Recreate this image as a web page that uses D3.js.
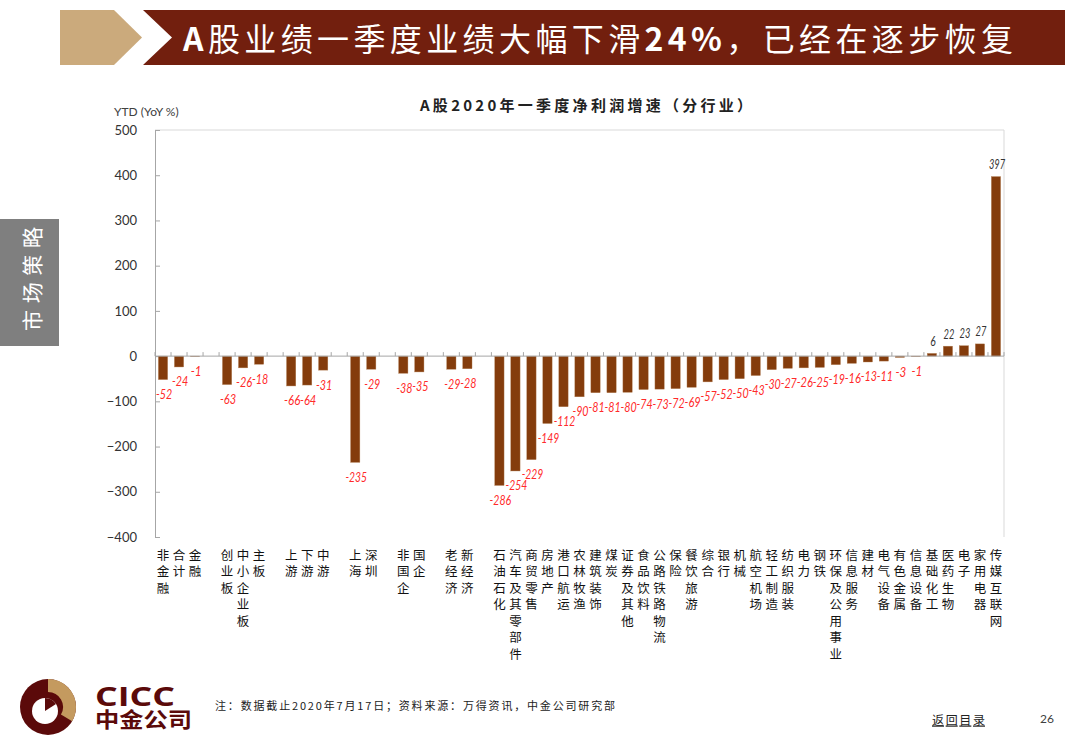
<!DOCTYPE html>
<html><head><meta charset="utf-8">
<script src="https://cdn.jsdelivr.net/npm/d3@7"></script>
<style>body{margin:0;background:#fff;} svg{display:block;}</style>
</head><body>
<svg id="c" width="1080" height="754"></svg>
<script>
// ---- data ----
const categories = ["非金融","合计","金融","","创业板","中小企业板","主板","","上游","下游","中游","","上海","深圳","","非国企","国企","","老经济","新经济","","石油石化","汽车及其零部件","商贸零售","房地产","港口航运","农林牧渔","建筑装饰","煤炭","证券及其他","食品饮料","公路铁路物流","保险","餐饮旅游","综合","银行","机械","航空机场","轻工制造","纺织服装","电力","钢铁","环保及公用事业","信息服务","建材","电气设备","有色金属","信息设备","基础化工","医药生物","电子","家用电器","传媒互联网"];
const values = [-52,-24,-1,null,-63,-26,-18,null,-66,-64,-31,null,-235,-29,null,-38,-35,null,-29,-28,null,-286,-254,-229,-149,-112,-90,-81,-81,-80,-74,-73,-72,-69,-57,-52,-50,-43,-30,-27,-26,-25,-19,-16,-13,-11,-3,-1,6,22,23,27,397];
const yTicks = [-400,-300,-200,-100,0,100,200,300,400,500];
const headerTitle = ["A","股业绩一季度业绩大幅下滑","24%","，已经在逐步恢复"];
const chartTitle = "A股2020年一季度净利润增速（分行业）";
const yAxisTitle = "YTD (YoY %)";
const footnote = "注：数据截止2020年7月17日；资料来源：万得资讯，中金公司研究部";
const sideTab = "市场策略";

const svg = d3.select("#c");
const CJK = "'Noto Sans CJK SC','Noto Sans',sans-serif";
const NUM = "Lato,'Open Sans',sans-serif";

// ---- header ----
svg.append("polygon").attr("points","60,10 114,10 142,37.5 114,65 60,65").attr("fill","#CBAA7C");
svg.append("polygon").attr("points","143,10 1065,10 1065,65 143,65 172,37.5").attr("fill","#721F0E");
const ht = svg.append("text").attr("x",183).attr("y",51).attr("fill","#fff")
  .attr("font-family",CJK).attr("font-size",32).attr("textLength",830).attr("lengthAdjust","spacing");
headerTitle.forEach((s,i)=>ht.append("tspan").attr("font-weight",(i%2===0)?"bold":"normal").text(s));

// ---- side tab ----
svg.append("rect").attr("x",0).attr("y",219).attr("width",59).attr("height",127).attr("fill","#7F7F7F");
svg.append("text").attr("transform","translate(31,279) rotate(-90)").attr("text-anchor","middle")
  .attr("dominant-baseline","central").attr("fill","#fff").attr("font-family",CJK).attr("font-size",21)
  .attr("textLength",104).attr("lengthAdjust","spacing").text(sideTab);

// ---- chart ----
const x0 = 155, x1 = 1004, yTop = 130, yBot = 537;
const x = d3.scaleBand().domain(d3.range(categories.length)).range([x0,x1]).paddingInner(0.42).paddingOuter(0.21);
const y = d3.scaleLinear().domain([-400,500]).range([yBot,yTop]);
const step = x.step();

svg.append("text").attr("x",586).attr("y",104).attr("text-anchor","middle").attr("dominant-baseline","central")
  .attr("font-family",CJK).attr("font-size",15).attr("font-weight","bold").attr("fill","#222")
  .attr("textLength",332).attr("lengthAdjust","spacing").text(chartTitle);
svg.append("text").attr("x",114).attr("y",111).attr("dominant-baseline","central")
  .attr("font-family",NUM).attr("font-size",12).attr("fill","#404040").text(yAxisTitle);

// plot border (top/right)
svg.append("path").attr("d",`M${x0},${yTop}H${x1}V${yBot}`).attr("fill","none").attr("stroke","#d9d9d9").attr("stroke-width",1);

// y axis
const yAxis = d3.axisLeft(y).tickValues(yTicks).tickSize(-5).tickPadding(22);
const ga = svg.append("g").attr("transform",`translate(${x0},0)`).call(yAxis);
ga.select(".domain").attr("stroke","#A6A6A6");
ga.selectAll(".tick line").attr("stroke","#A6A6A6");
ga.selectAll(".tick text").attr("font-family",NUM).attr("font-size",13).attr("fill","#333").attr("x",-18);

// bars
const idx = d3.range(categories.length).filter(i=>values[i]!==null);
svg.append("g").selectAll("rect").data(idx).join("rect")
  .attr("x",i=>x(i)).attr("width",x.bandwidth())
  .attr("y",i=>y(Math.max(0,values[i]))).attr("height",i=>Math.max(0.5,Math.abs(y(values[i])-y(0))))
  .attr("fill","#843C0C").attr("stroke","#B5835A").attr("stroke-width",0.4);

// x axis line + ticks at slot boundaries
const y0 = y(0);
svg.append("line").attr("x1",x0).attr("x2",x1).attr("y1",y0).attr("y2",y0).attr("stroke","#A6A6A6");
svg.append("g").selectAll("line").data(d3.range(categories.length+1)).join("line")
  .attr("x1",i=>x0+i*step).attr("x2",i=>x0+i*step).attr("y1",y0).attr("y2",y0-4).attr("stroke","#A6A6A6");

// value labels
svg.append("g").selectAll("text").data(idx).join("text")
  .attr("x",i=>x(i)+x.bandwidth()/2+1)
  .attr("y",i=>values[i]<0 ? y(values[i])+15 : y(values[i])-12)
  .attr("text-anchor","middle").attr("dominant-baseline","central")
  .attr("font-family",NUM).attr("font-size",12.5).attr("font-style","italic")
  .attr("fill",i=>values[i]<0?"#FF2A2A":"#333")
  .attr("textLength",i=>String(values[i]).length*5.4).attr("lengthAdjust","spacingAndGlyphs")
  .text(i=>values[i]);

// category labels (vertical stacked characters, one text per category)
const gl = svg.append("g").attr("font-family",CJK).attr("font-size",12.5).attr("fill","#111");
categories.forEach((c,i)=>{
  if(!c) return;
  const cx = x(i)+x.bandwidth()/2;
  const t = gl.append("text").attr("x",cx).attr("y",559.5).attr("text-anchor","middle");
  Array.from(c).forEach((ch,k)=>{
    t.append("tspan").attr("x",cx).attr("dy",k===0?0:16.5).text(ch);
  });
});

// ---- footer ----
const lg = svg.append("g").attr("transform","translate(48,707)");
lg.append("circle").attr("r",28).attr("fill","#5B0A0A");
lg.append("path").attr("d",d3.arc()({innerRadius:15,outerRadius:28,startAngle:0,endAngle:2.1})).attr("fill","#C49A5F");
lg.append("circle").attr("cx",-3).attr("cy",4).attr("r",13).attr("fill","#fff");
lg.append("path").attr("d","M-3,4 L-3,-9 A13,13 0 0 1 8,-3 Z").attr("fill","#5B0A0A");
const logoT = svg.append("text").attr("fill","#5B0A0A").attr("font-weight","bold");
logoT.append("tspan").attr("x",95).attr("y",706).attr("font-family","'Open Sans',Lato,sans-serif")
  .attr("font-size",27).attr("textLength",80).attr("lengthAdjust","spacingAndGlyphs").text("CICC");
logoT.append("tspan").attr("x",95).attr("y",727).attr("font-family",CJK)
  .attr("font-size",21).attr("textLength",97).attr("lengthAdjust","spacingAndGlyphs").text("中金公司");
svg.append("text").attr("x",215).attr("y",705).attr("dominant-baseline","central").attr("font-family",CJK)
  .attr("font-size",11).attr("fill","#222").attr("textLength",400).attr("lengthAdjust","spacing").text(footnote);
svg.append("text").attr("x",932).attr("y",719).attr("dominant-baseline","central").attr("font-family",CJK)
  .attr("font-size",12).attr("fill","#222").attr("text-decoration","underline").attr("textLength",53).text("返回目录");
svg.append("text").attr("x",1040).attr("y",718).attr("dominant-baseline","central").attr("font-family",NUM)
  .attr("font-size",12).attr("fill","#404040").text("26");
</script>
</body></html>
